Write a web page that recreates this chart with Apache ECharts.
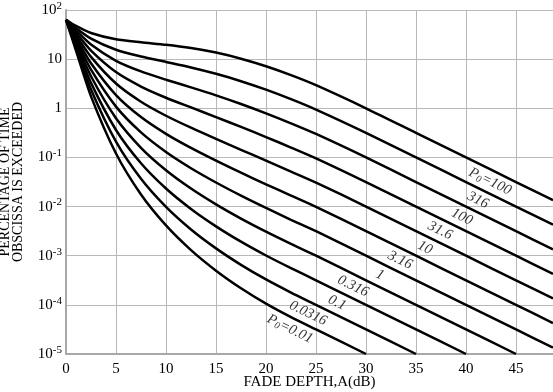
<!DOCTYPE html>
<html>
<head>
<meta charset="utf-8">
<script src="https://cdn.jsdelivr.net/npm/echarts@6/dist/echarts.min.js"></script>
<style>
  html, body { margin: 0; padding: 0; background: #fff; }
  #chart { width: 553px; height: 392px; }
</style>
</head>
<body>
<div id="chart"></div>
<script>
// fade depth A (dB) where each curve was read
const fadeDepth = [0, 1, 2.5, 5, 7.5, 10, 12.5, 15, 17.5, 20, 22.5, 25, 30, 35, 40, 45, 48.7];

// percentage of time, one array per P0 curve (top to bottom)
const p1000 = [63.2, 47.3, 34.1, 25.3, 22.0, 19.6, 16.8, 13.6, 10.2, 7.16, 4.72, 2.95, 1.0, 0.316, 0.1, 0.0316, 0.0135];
const p316 = [63.2, 42.7, 26.1, 15.5, 11.3, 8.76, 6.77, 5.03, 3.56, 2.39, 1.53, 0.939, 0.316, 0.1, 0.0316, 0.01, 0.00427];
const p100 = [63.2, 38.4, 19.8, 9.24, 5.62, 3.82, 2.66, 1.83, 1.22, 0.788, 0.493, 0.300, 0.1, 0.0316, 0.01, 0.00316, 0.00135];
const p31_6 = [63.2, 34.5, 14.9, 5.45, 2.77, 1.64, 1.04, 0.661, 0.418, 0.260, 0.159, 0.0959, 0.0316, 0.01, 0.00316, 0.001, 0.000427];
const p10 = [63.2, 30.8, 11.1, 3.19, 1.36, 0.705, 0.402, 0.238, 0.143, 0.0860, 0.0515, 0.0308, 0.01, 0.00316, 0.001, 0.000316, 0.000135];
const p3_16 = [63.2, 27.5, 8.25, 1.86, 0.663, 0.302, 0.156, 0.0859, 0.0489, 0.0284, 0.0167, 0.00987, 0.00316, 0.001, 0.000316, 0.0001, 0.0000427];
const p1 = [63.2, 24.4, 6.09, 1.08, 0.323, 0.129, 0.0603, 0.0309, 0.0167, 0.00938, 0.00539, 0.00316, 0.001, 0.000316, 0.0001, 0.0000316, 0.0000135];
const p0_316 = [63.2, 21.7, 4.49, 0.627, 0.157, 0.0549, 0.0233, 0.0111, 0.0057, 0.00309, 0.00174, 0.001, 0.000316, 0.0001, 0.0000316, 0.00001, null];
const p0_1 = [63.2, 19.1, 3.29, 0.362, 0.0761, 0.0233, 0.00894, 0.00396, 0.00193, 0.00101, 0.000558, 0.000316, 0.0001, 0.0000316, 0.00001, null, null];
const p0_0316 = [63.2, 16.9, 2.41, 0.209, 0.0367, 0.00984, 0.00342, 0.00141, 0.000652, 0.000329, 0.000178, 0.0001, 0.0000316, 0.00001, null, null, null];
const p0_01 = [63.2, 14.9, 1.75, 0.120, 0.0176, 0.00413, 0.0013, 0.000497, 0.000218, 0.000106, 0.0000563, 0.0000316, 0.00001, null, null, null, null];

const curves = [p1000, p316, p100, p31_6, p10, p3_16, p1, p0_316, p0_1, p0_0316, p0_01];

// curve labels, written along the lines
const labelText = ['P0=100', '316', '100', '31.6', '10', '3.16', '1', '0.316', '0.1', '0.0316', 'P0=0.01'];
const labelX = [42.4, 41.2, 39.6, 37.4, 35.9, 33.4, 31.4, 28.7, 27.1, 24.2, 22.4];
const labelY = [0.0324, 0.0135, 0.00617, 0.00324, 0.00145, 0.000813, 0.000407, 0.00024, 0.00011, 0.0000676, 0.0000324];

const serif = 'Liberation Serif';

function richLabel(t) {
  if (t.indexOf('P0=') === 0) {
    return '{i|P}{sub|0}{i|' + t.slice(2) + '}';
  }
  return '{i|' + t + '}';
}

const lineSeries = curves.map(function (vals, k) {
  const pts = [];
  vals.forEach(function (v, i) {
    if (v !== null) pts.push([fadeDepth[i], v]);
  });
  return {
    name: labelText[k],
    type: 'line',
    data: pts,
    showSymbol: false,
    smooth: 0.25,
    lineStyle: { color: '#000', width: 2.5 },
    silent: true
  };
});

const labelSeries = {
  type: 'scatter',
  symbolSize: 1,
  itemStyle: { color: 'rgba(0,0,0,0)' },
  silent: true,
  z: 5,
  data: labelX.map(function (x, i) { return [x, labelY[i], i]; }),
  label: {
    show: true,
    position: 'inside',
    rotate: -26,
    formatter: function (p) { return richLabel(labelText[p.value[2]]); },
    rich: {
      i: { fontFamily: serif, fontStyle: 'italic', fontSize: 14.5, lineHeight: 16, color: '#000' },
      sub: { fontFamily: serif, fontStyle: 'italic', fontSize: 10, lineHeight: 9, verticalAlign: 'bottom', color: '#000' }
    }
  }
};

const chart = echarts.init(document.getElementById('chart'));
chart.setOption({
  animation: false,
  backgroundColor: '#fff',
  grid: { left: 66, right: 0, top: 10, bottom: 38, containLabel: false, outerBoundsMode: 'none' },
  xAxis: {
    type: 'value',
    min: 0,
    max: 48.7,
    interval: 5,
    name: 'FADE DEPTH,A(dB)',
    nameLocation: 'middle',
    nameMoveOverlap: false,
    nameGap: 21,
    nameTextStyle: { fontFamily: serif, fontSize: 15, color: '#000' },
    axisLine: { lineStyle: { color: '#a8a8a8', width: 2 } },
    axisTick: { show: false },
    axisLabel: { fontFamily: serif, fontSize: 15, color: '#000', margin: 8, showMaxLabel: false },
    splitLine: { lineStyle: { color: '#b8b8b8', width: 1 } }
  },
  yAxis: {
    type: 'log',
    logBase: 10,
    min: 0.00001,
    max: 100,
    name: 'PERCENTAGE OF TIME\nOBSCISSA IS EXCEEDED',
    nameLocation: 'middle',
    nameMoveOverlap: false,
    nameRotate: 90,
    nameGap: 41,
    nameTextStyle: { fontFamily: serif, fontSize: 14, lineHeight: 13, color: '#000' },
    axisLine: { show: true, lineStyle: { color: '#a8a8a8', width: 2 } },
    axisTick: { show: false },
    splitLine: { lineStyle: { color: '#b8b8b8', width: 1 } },
    axisLabel: {
      margin: 4,
      formatter: function (v) {
        const e = Math.round(Math.log10(v));
        if (e === 0) return '{b|1}';
        if (e === 1) return '{b|10}';
        return '{b|10}{s|' + e + '}';
      },
      rich: {
        b: { fontFamily: serif, fontSize: 15, lineHeight: 19, color: '#000' },
        s: { fontFamily: serif, fontSize: 11, lineHeight: 9, verticalAlign: 'top', color: '#000' }
      }
    }
  },
  series: lineSeries.concat([labelSeries])
});
</script>
</body>
</html>
